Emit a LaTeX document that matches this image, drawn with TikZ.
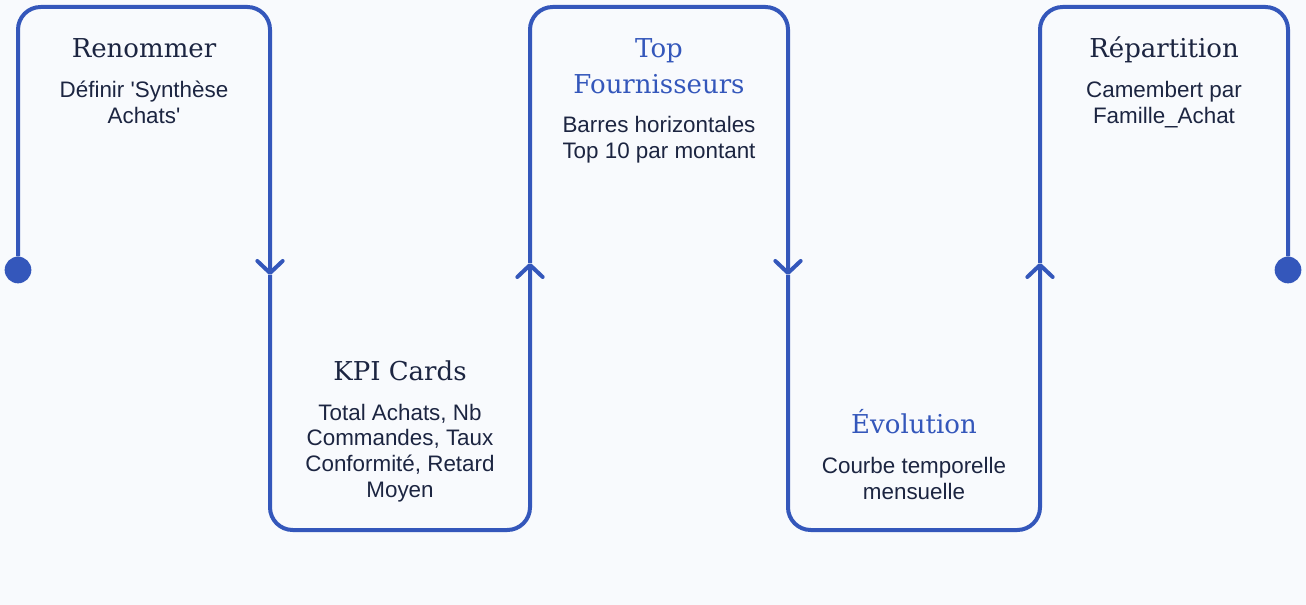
\documentclass[tikz,border=0pt]{standalone}
\usepackage{fontspec}
\setmainfont{Liberation Sans}
\newfontfamily\slabfont{DejaVu Serif}
\usetikzlibrary{arrows.meta}
\definecolor{flowblue}{HTML}{3457BB}
\definecolor{inkdark}{HTML}{1C2541}
\definecolor{paper}{HTML}{F8FAFD}
\begin{document}
\begin{tikzpicture}
  [x=0.75pt, y=-0.75pt,
    flow/.style={line width=3pt, draw=flowblue, rounded corners=17pt},
    tip/.style={-{Straight Barb[length=9pt,width=19pt,line width=0pt 1,round]}},
    dot/.style={circle, fill=flowblue, inner sep=0pt, minimum size=20pt},
    title/.style={font=\slabfont\fontsize{19.5}{27}\selectfont,
      text=inkdark, align=center, anchor=base},
    hl/.style={text=flowblue},
    body/.style={font=\fontsize{16.8}{19.5}\selectfont,
      text=inkdark, align=center, anchor=base},
  ]
  \fill[paper] (0,0) rectangle (1306,605);
  \useasboundingbox (0,0) rectangle (1306,605);

  % Ends and turning points of the line
  \node[dot] (start) at (18,270) {};
  \node[dot] (stop) at (1288,270) {};
  \coordinate (j1) at (270,275);
  \coordinate (j2) at (530,263);
  \coordinate (j3) at (788,275);
  \coordinate (j4) at (1040,263);
  \coordinate (top1) at (144,7);
  \coordinate (bot2) at (400,530);
  \coordinate (top3) at (659,7);
  \coordinate (bot4) at (914,530);
  \coordinate (top5) at (1164,7);

  % The winding line
  \draw[flow, tip] (start) |- (top1) -| (j1);
  \draw[flow, tip] (j1) |- (bot2) -| (j2);
  \draw[flow, tip] (j2) |- (top3) -| (j3);
  \draw[flow, tip] (j3) |- (bot4) -| (j4);
  \draw[flow] (j4) |- (top5) -| (stop);

  % Steps (placed at the baseline of their last line)
  \node[title] (t1) at (144,58) {Renommer};
  \node[body] (b1) at (144,124) {Définir \textquotesingle Synthèse\\Achats\textquotesingle};

  \node[title] (t2) at (400,381) {KPI Cards};
  \node[body] (b2) at (400,498) {Total Achats, Nb\\Commandes, Taux\\Conformité, Retard\\Moyen};

  \node[title, hl] (t3) at (659,94) {Top\\Fournisseurs};
  \node[body] (b3) at (659,159) {Barres horizontales\\Top 10 par montant};

  \node[title, hl] (t4) at (914,434) {Évolution};
  \node[body] (b4) at (914,499) {Courbe temporelle\\mensuelle};

  \node[title] (t5) at (1164,58) {Répartition};
  \node[body] (b5) at (1164,124) {Camembert par\\Famille\_Achat};
\end{tikzpicture}
\end{document}
